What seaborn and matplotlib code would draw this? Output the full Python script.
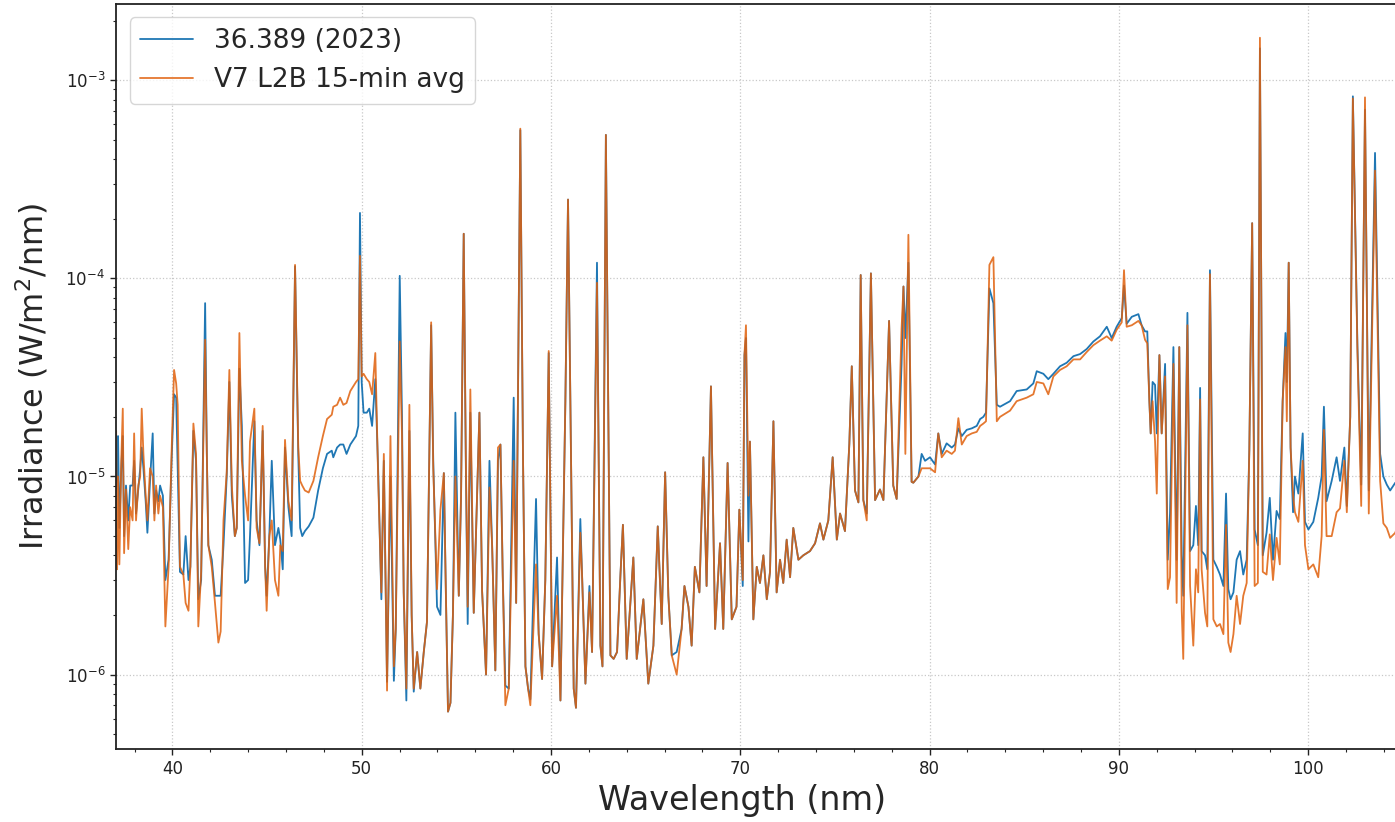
import matplotlib
matplotlib.use("Agg")
import matplotlib.pyplot as plt
from matplotlib.ticker import MultipleLocator
import seaborn as sns
import pandas as pd

# wavelength grid (nm) shared by both spectra
wavelength_nm = [
    37.03, 37.08, 37.13, 37.20, 37.30, 37.38, 37.45, 37.55, 37.67, 37.77,
    37.90, 37.98, 38.08, 38.20, 38.30, 38.38, 38.47, 38.59, 38.68, 38.82,
    38.96, 39.05, 39.14, 39.26, 39.35, 39.50, 39.63, 39.80, 39.97, 40.09,
    40.20, 40.28, 40.40, 40.58, 40.70, 40.85, 40.95, 41.11, 41.25, 41.37,
    41.52, 41.73, 41.82, 41.90, 42.08, 42.25, 42.43, 42.55, 42.70, 42.87,
    43.01, 43.14, 43.30, 43.40, 43.54, 43.67, 43.84, 44.00, 44.10, 44.33,
    44.45, 44.60, 44.77, 44.90, 44.98, 45.12, 45.25, 45.42, 45.60, 45.70,
    45.83, 45.95, 46.13, 46.30, 46.48, 46.65, 46.75, 46.86, 47.00, 47.20,
    47.45, 47.70, 47.95, 48.17, 48.42, 48.50, 48.70, 48.86, 49.03, 49.20,
    49.40, 49.70, 49.82, 49.91, 50.00, 50.10, 50.27, 50.40, 50.55, 50.72,
    50.88, 51.04, 51.17, 51.34, 51.52, 51.70, 51.80, 52.01, 52.13, 52.22,
    52.36, 52.52, 52.64, 52.75, 52.93, 53.10, 53.28, 53.45, 53.67, 53.78,
    53.98, 54.16, 54.34, 54.45, 54.56, 54.69, 54.82, 54.95, 55.13, 55.25,
    55.39, 55.50, 55.60, 55.74, 55.92, 56.22, 56.36, 56.57, 56.75, 56.89,
    57.06, 57.20, 57.33, 57.45, 57.59, 57.77, 58.03, 58.16, 58.38, 58.52,
    58.65, 58.79, 58.91, 59.21, 59.35, 59.53, 59.70, 59.88, 60.06, 60.32,
    60.50, 60.76, 60.90, 61.05, 61.20, 61.32, 61.55, 61.64, 61.82, 62.03,
    62.17, 62.43, 62.61, 62.72, 62.90, 63.14, 63.31, 63.49, 63.67, 63.80,
    64.00, 64.35, 64.53, 64.88, 65.14, 65.41, 65.64, 65.85, 66.03, 66.20,
    66.38, 66.64, 66.90, 67.05, 67.26, 67.43, 67.60, 67.84, 68.05, 68.22,
    68.45, 68.67, 68.93, 69.10, 69.33, 69.55, 69.80, 69.95, 70.13, 70.22,
    70.30, 70.43, 70.51, 70.69, 70.87, 71.04, 71.22, 71.40, 71.57, 71.75,
    71.92, 72.10, 72.27, 72.45, 72.63, 72.80, 73.07, 73.33, 73.68, 73.95,
    74.21, 74.39, 74.65, 74.88, 75.10, 75.27, 75.53, 75.76, 75.89, 76.06,
    76.24, 76.36, 76.50, 76.68, 76.90, 77.12, 77.38, 77.56, 77.86, 78.08,
    78.26, 78.52, 78.62, 78.72, 78.88, 79.05, 79.14, 79.41, 79.58, 79.76,
    80.02, 80.29, 80.46, 80.64, 80.90, 81.17, 81.34, 81.52, 81.70, 81.96,
    82.23, 82.49, 82.67, 82.84, 82.98, 83.16, 83.37, 83.55, 83.72, 84.25,
    84.60, 85.13, 85.48, 85.66, 86.01, 86.27, 86.54, 86.89, 87.24, 87.60,
    87.95, 88.30, 88.65, 89.00, 89.36, 89.62, 89.88, 90.15, 90.27, 90.41,
    90.68, 91.03, 91.20, 91.38, 91.50, 91.61, 91.68, 91.78, 91.91, 92.00,
    92.14, 92.26, 92.44, 92.58, 92.70, 92.88, 93.05, 93.19, 93.32, 93.40,
    93.62, 93.76, 93.93, 94.07, 94.19, 94.29, 94.37, 94.55, 94.67, 94.81,
    94.99, 95.17, 95.34, 95.52, 95.66, 95.78, 95.90, 96.05, 96.22, 96.40,
    96.57, 96.75, 96.89, 97.04, 97.17, 97.34, 97.45, 97.60, 97.80, 97.97,
    98.14, 98.33, 98.50, 98.65, 98.80, 98.87, 98.97, 99.07, 99.20, 99.30,
    99.48, 99.71, 99.83, 100.01, 100.27, 100.53, 100.71, 100.83, 100.97, 101.24,
    101.50, 101.68, 101.91, 102.04, 102.22, 102.36, 102.60, 102.80, 103.00, 103.20,
    103.53, 103.80, 103.97, 104.15, 104.33, 104.60, 104.80, 105.20,
]

# rocket spectrum 36.389 (2023), W/m^2/nm
irr_rocket = [
    8.6e-6, 1.0e-5, 1.6e-5, 5.5e-6, 1.1e-5, 1.6e-5, 5.0e-6, 9.0e-6, 6.0e-6, 9.0e-6,
    9.0e-6, 1.2e-5, 6.5e-6, 8.6e-6, 1.1e-5, 1.4e-5, 1.1e-5, 7.5e-6, 5.2e-6, 9.5e-6,
    1.65e-5, 6.5e-6, 8.5e-6, 7.5e-6, 9.0e-6, 8.0e-6, 3.0e-6, 3.8e-6, 1.3e-5, 2.6e-5,
    2.5e-5, 1.1e-5, 3.3e-6, 3.2e-6, 5.0e-6, 3.0e-6, 3.5e-6, 1.7e-5, 1.2e-5, 2.4e-6,
    3.0e-6, 7.5e-5, 1.3e-5, 4.5e-6, 3.8e-6, 2.5e-6, 2.5e-6, 2.5e-6, 4.5e-6, 1.0e-5,
    3.0e-5, 8.0e-6, 5.0e-6, 5.5e-6, 3.5e-5, 1.8e-5, 2.9e-6, 3.0e-6, 5.0e-6, 1.9e-5,
    6.0e-6, 4.5e-6, 1.7e-5, 3.5e-6, 2.5e-6, 5.0e-6, 1.2e-5, 4.5e-6, 5.5e-6, 4.8e-6,
    3.4e-6, 1.4e-5, 7.0e-6, 5.0e-6, 1.15e-4, 1.3e-5, 5.5e-6, 5.0e-6, 5.3e-6, 5.6e-6,
    6.2e-6, 8.5e-6, 1.1e-5, 1.3e-5, 1.35e-5, 1.25e-5, 1.4e-5, 1.45e-5, 1.45e-5, 1.3e-5,
    1.45e-5, 1.6e-5, 1.8e-5, 2.14e-4, 3.0e-5, 2.1e-5, 2.1e-5, 2.2e-5, 1.8e-5, 3.1e-5,
    1.0e-5, 2.4e-6, 1.2e-5, 9.2e-7, 1.0e-5, 9.3e-7, 1.7e-6, 1.03e-4, 2.0e-5, 2.6e-6,
    7.4e-7, 1.7e-5, 2.0e-6, 8.2e-7, 1.3e-6, 8.5e-7, 1.3e-6, 1.85e-6, 5.8e-5, 1.2e-5,
    2.2e-6, 2.0e-6, 1.04e-5, 2.5e-6, 6.5e-7, 7.2e-7, 2.0e-6, 2.1e-5, 2.5e-6, 8.0e-6,
    1.68e-4, 1.2e-5, 1.8e-6, 2.1e-5, 2.05e-6, 2.1e-5, 2.65e-6, 1.0e-6, 1.2e-5, 4.5e-6,
    1.05e-6, 1.2e-5, 1.45e-5, 3.2e-6, 8.8e-7, 8.5e-7, 2.5e-5, 2.3e-6, 5.6e-4, 1.3e-5,
    1.1e-6, 8.5e-7, 7.5e-7, 7.7e-6, 1.6e-6, 9.5e-7, 3.0e-6, 4.2e-5, 1.1e-6, 3.9e-6,
    7.4e-7, 2.4e-5, 2.5e-4, 1.5e-5, 8.5e-7, 6.8e-7, 6.1e-6, 3.2e-6, 9.0e-7, 2.8e-6,
    1.3e-6, 1.2e-4, 1.4e-6, 1.1e-6, 5.3e-4, 1.25e-6, 1.2e-6, 1.3e-6, 3.2e-6, 5.7e-6,
    1.2e-6, 3.9e-6, 1.2e-6, 2.4e-6, 9.0e-7, 1.4e-6, 5.6e-6, 1.8e-6, 1.05e-5, 2.5e-6,
    1.25e-6, 1.3e-6, 1.7e-6, 2.8e-6, 2.2e-6, 1.4e-6, 3.5e-6, 2.6e-6, 1.25e-5, 2.8e-6,
    2.85e-5, 1.7e-6, 4.6e-6, 1.7e-6, 1.17e-5, 1.9e-6, 2.2e-6, 6.8e-6, 2.8e-6, 4.1e-5,
    5.0e-5, 4.7e-6, 1.5e-5, 1.9e-6, 3.5e-6, 2.9e-6, 4.0e-6, 2.4e-6, 3.3e-6, 1.9e-5,
    2.6e-6, 3.8e-6, 2.9e-6, 4.8e-6, 3.1e-6, 5.5e-6, 3.8e-6, 4.0e-6, 4.2e-6, 4.6e-6,
    5.8e-6, 4.8e-6, 6.0e-6, 1.25e-5, 4.8e-6, 6.5e-6, 5.3e-6, 1.46e-5, 3.6e-5, 8.5e-6,
    7.4e-6, 1.04e-4, 7.6e-6, 6.5e-6, 1.06e-4, 7.6e-6, 8.6e-6, 7.6e-6, 6.1e-5, 9.0e-6,
    7.7e-6, 3.7e-5, 9.1e-5, 5.0e-5, 1.2e-4, 9.4e-6, 9.3e-6, 1.0e-5, 1.3e-5, 1.2e-5,
    1.25e-5, 1.15e-5, 1.65e-5, 1.3e-5, 1.47e-5, 1.4e-5, 1.45e-5, 1.75e-5, 1.6e-5, 1.72e-5,
    1.75e-5, 1.8e-5, 1.95e-5, 2.0e-5, 2.1e-5, 8.9e-5, 7.5e-5, 2.3e-5, 2.25e-5, 2.4e-5,
    2.7e-5, 2.75e-5, 2.95e-5, 3.4e-5, 3.3e-5, 3.1e-5, 3.3e-5, 3.6e-5, 3.75e-5, 4.05e-5,
    4.15e-5, 4.4e-5, 4.8e-5, 5.1e-5, 5.7e-5, 5.0e-5, 5.7e-5, 6.3e-5, 9.2e-5, 5.9e-5,
    6.4e-5, 6.6e-5, 5.8e-5, 5.4e-5, 5.4e-5, 2.4e-5, 1.65e-5, 3.0e-5, 2.9e-5, 1.65e-5,
    4.1e-5, 1.65e-5, 3.7e-5, 3.8e-6, 6.5e-6, 4.5e-5, 3.8e-6, 4.5e-5, 4.0e-6, 2.5e-6,
    6.7e-5, 4.2e-6, 4.5e-6, 7.1e-6, 4.5e-6, 2.8e-5, 4.2e-6, 4.0e-6, 3.4e-6, 1.1e-4,
    3.8e-6, 3.5e-6, 3.2e-6, 2.8e-6, 8.2e-6, 2.7e-6, 2.4e-6, 2.6e-6, 3.8e-6, 4.2e-6,
    3.2e-6, 3.8e-6, 1.36e-5, 1.9e-4, 5.4e-6, 4.5e-6, 1.45e-3, 4.0e-6, 5.2e-6, 7.8e-6,
    3.8e-6, 6.7e-6, 6.1e-6, 2.4e-5, 5.3e-5, 3.0e-5, 1.2e-4, 1.4e-5, 6.6e-6, 1.0e-5,
    8.2e-6, 1.65e-5, 5.9e-6, 5.4e-6, 5.9e-6, 7.8e-6, 1.0e-5, 2.25e-5, 7.5e-6, 9.5e-6,
    1.25e-5, 9.5e-6, 1.4e-5, 7.1e-6, 2.0e-5, 8.3e-4, 4.6e-5, 9.1e-6, 7.1e-4, 8.5e-6,
    4.3e-4, 1.3e-5, 1.0e-5, 9.1e-6, 8.5e-6, 9.3e-6, 8.5e-6, 8.8e-6,
]

# V7 L2B 15-min average, W/m^2/nm
irr_v7 = [
    1.7e-5, 3.4e-6, 1.0e-5, 3.6e-6, 1.2e-5, 2.2e-5, 4.1e-6, 8.6e-6, 4.3e-6, 7.0e-6,
    6.0e-6, 1.65e-5, 6.0e-6, 9.0e-6, 1.0e-5, 2.2e-5, 1.3e-5, 8.0e-6, 6.0e-6, 1.1e-5,
    1.0e-5, 6.0e-6, 9.0e-6, 6.5e-6, 8.0e-6, 7.0e-6, 1.75e-6, 3.5e-6, 1.45e-5, 3.45e-5,
    2.95e-5, 2.3e-5, 3.5e-6, 3.2e-6, 2.3e-6, 2.1e-6, 3.5e-6, 1.85e-5, 1.3e-5, 1.75e-6,
    3.3e-6, 4.9e-5, 1.3e-5, 4.5e-6, 3.5e-6, 2.3e-6, 1.45e-6, 1.65e-6, 6.0e-6, 1.05e-5,
    3.45e-5, 9.0e-6, 5.0e-6, 5.5e-6, 5.3e-5, 1.2e-5, 8.0e-6, 6.0e-6, 1.5e-5, 2.2e-5,
    5.5e-6, 4.6e-6, 1.8e-5, 3.5e-6, 2.1e-6, 5.0e-6, 6.0e-6, 3.0e-6, 2.5e-6, 4.5e-6,
    4.2e-6, 1.53e-5, 7.5e-6, 6.0e-6, 1.17e-4, 1.4e-5, 9.5e-6, 9.0e-6, 8.5e-6, 8.3e-6,
    9.5e-6, 1.25e-5, 1.6e-5, 1.95e-5, 2.05e-5, 2.25e-5, 2.3e-5, 2.5e-5, 2.3e-5, 2.35e-5,
    2.7e-5, 3.0e-5, 3.1e-5, 1.3e-4, 3.2e-5, 3.3e-5, 3.1e-5, 3.0e-5, 2.6e-5, 4.2e-5,
    9.0e-6, 2.6e-6, 1.3e-5, 8.3e-7, 1.6e-5, 1.1e-6, 1.7e-6, 4.8e-5, 1.6e-5, 2.6e-6,
    8.5e-7, 2.3e-5, 2.0e-6, 8.5e-7, 1.3e-6, 8.5e-7, 1.3e-6, 1.85e-6, 6.0e-5, 1.1e-5,
    2.7e-6, 6.8e-6, 1.04e-5, 2.5e-6, 6.5e-7, 7.2e-7, 2.0e-6, 1.0e-5, 2.5e-6, 8.0e-6,
    1.68e-4, 1.3e-5, 2.2e-6, 2.75e-5, 2.05e-6, 2.1e-5, 2.65e-6, 1.0e-6, 8.8e-6, 4.5e-6,
    1.05e-6, 1.4e-5, 1.45e-5, 3.2e-6, 7.0e-7, 8.5e-7, 1.2e-5, 2.3e-6, 5.7e-4, 1.3e-5,
    1.1e-6, 8.5e-7, 7.0e-7, 3.6e-6, 1.6e-6, 9.5e-7, 3.0e-6, 4.3e-5, 1.1e-6, 2.5e-6,
    7.4e-7, 2.4e-5, 2.5e-4, 1.5e-5, 8.5e-7, 6.8e-7, 5.2e-6, 3.2e-6, 9.0e-7, 2.6e-6,
    1.3e-6, 9.5e-5, 1.4e-6, 1.1e-6, 5.3e-4, 1.25e-6, 1.2e-6, 1.3e-6, 3.2e-6, 5.7e-6,
    1.2e-6, 3.9e-6, 1.2e-6, 2.4e-6, 9.0e-7, 1.4e-6, 5.6e-6, 1.8e-6, 1.05e-5, 2.5e-6,
    1.25e-6, 1.0e-6, 1.7e-6, 2.8e-6, 2.2e-6, 1.4e-6, 3.5e-6, 2.6e-6, 1.25e-5, 2.8e-6,
    2.85e-5, 1.7e-6, 4.6e-6, 1.7e-6, 1.17e-5, 1.9e-6, 2.2e-6, 6.8e-6, 3.0e-6, 4.1e-5,
    5.8e-5, 8.0e-6, 1.5e-5, 1.9e-6, 3.5e-6, 2.9e-6, 4.0e-6, 2.4e-6, 3.3e-6, 1.9e-5,
    2.6e-6, 3.8e-6, 2.9e-6, 4.8e-6, 3.1e-6, 5.5e-6, 3.8e-6, 4.0e-6, 4.2e-6, 4.6e-6,
    5.8e-6, 4.8e-6, 6.0e-6, 1.25e-5, 4.8e-6, 6.5e-6, 5.3e-6, 1.46e-5, 3.6e-5, 8.5e-6,
    7.4e-6, 1.04e-4, 7.6e-6, 6.0e-6, 1.06e-4, 7.6e-6, 8.6e-6, 7.6e-6, 6.1e-5, 9.0e-6,
    7.7e-6, 5.6e-5, 9.1e-5, 1.3e-5, 1.66e-4, 9.4e-6, 9.3e-6, 1.0e-5, 1.1e-5, 1.1e-5,
    1.1e-5, 1.05e-5, 1.65e-5, 1.25e-5, 1.35e-5, 1.3e-5, 1.35e-5, 1.97e-5, 1.45e-5, 1.6e-5,
    1.65e-5, 1.68e-5, 1.8e-5, 1.85e-5, 1.9e-5, 1.17e-4, 1.28e-4, 1.9e-5, 2.0e-5, 2.15e-5,
    2.4e-5, 2.5e-5, 2.6e-5, 3.0e-5, 2.95e-5, 2.6e-5, 3.2e-5, 3.45e-5, 3.6e-5, 3.9e-5,
    3.9e-5, 4.25e-5, 4.6e-5, 4.85e-5, 5.1e-5, 4.85e-5, 5.5e-5, 6.0e-5, 1.1e-4, 5.7e-5,
    5.8e-5, 6.1e-5, 5.8e-5, 4.9e-5, 4.7e-5, 2.4e-5, 1.65e-5, 2.4e-5, 1.5e-5, 8.2e-6,
    4.1e-5, 1.65e-5, 3.2e-5, 2.7e-6, 3.1e-6, 3.7e-5, 2.3e-6, 4.5e-5, 2.1e-6, 1.2e-6,
    5.8e-5, 2.8e-6, 1.4e-6, 3.4e-6, 2.6e-6, 2.45e-5, 3.4e-6, 2.05e-6, 1.75e-6, 1.05e-4,
    1.9e-6, 1.75e-6, 1.8e-6, 1.6e-6, 5.7e-6, 1.45e-6, 1.3e-6, 1.6e-6, 2.5e-6, 1.8e-6,
    2.5e-6, 2.9e-6, 1.36e-5, 1.9e-4, 2.8e-6, 2.9e-6, 1.64e-3, 3.3e-6, 3.2e-6, 5.1e-6,
    3.0e-6, 4.9e-6, 3.6e-6, 2.4e-5, 4.5e-5, 1.9e-5, 1.2e-4, 1.4e-5, 8.0e-6, 6.6e-6,
    5.9e-6, 1.2e-5, 4.5e-6, 3.4e-6, 3.6e-6, 3.1e-6, 5.0e-6, 1.72e-5, 5.0e-6, 5.0e-6,
    6.6e-6, 6.9e-6, 1.2e-5, 6.6e-6, 2.0e-5, 8.1e-4, 4.3e-5, 7.1e-6, 8.2e-4, 6.5e-6,
    3.5e-4, 9.5e-6, 5.8e-6, 5.5e-6, 4.9e-6, 5.2e-6, 6.0e-6, 5.8e-6,
]

series_labels = ["36.389 (2023)", "V7 L2B 15-min avg"]

df = pd.DataFrame({"wavelength": wavelength_nm, "rocket": irr_rocket, "v7": irr_v7})

sns.set_style("ticks")
plt.rcParams['font.family'] = ['DejaVu Sans']

fig = plt.figure(figsize=(13.95, 8.22), dpi=100)
ax = fig.add_axes([0.0834, 0.0888, 0.9358, 0.906])

sns.lineplot(data=df, x="wavelength", y="rocket", ax=ax, color="#1f77b4", lw=1.3,
             label=series_labels[0])
sns.lineplot(data=df, x="wavelength", y="v7", ax=ax, color="#e0600c", lw=1.3, alpha=0.85,
             label=series_labels[1])

ax.set_yscale("log")
ax.set_xlim(37.04, 106.0)
ax.set_ylim(4.21e-7, 2.42e-3)
ax.xaxis.set_major_locator(MultipleLocator(10))
ax.xaxis.set_minor_locator(MultipleLocator(2))

ax.grid(True, which="major", linestyle=":", color="#c8c8c8", lw=0.9)
ax.tick_params(which="major", length=4.5, width=1.0, labelsize=12, colors="#222222")
ax.tick_params(which="minor", length=2.5, width=0.8)
for s in ax.spines.values():
    s.set_linewidth(1.3)
    s.set_color("#222222")

ax.set_xlabel("Wavelength (nm)", fontsize=24)
ax.xaxis.label.set_x(0.479)
ax.set_ylabel("Irradiance (W/m$^2$/nm)", fontsize=23, labelpad=11)

ax.legend(loc="upper left", fontsize=19, frameon=True)

fig.savefig("out.png", dpi=100)
